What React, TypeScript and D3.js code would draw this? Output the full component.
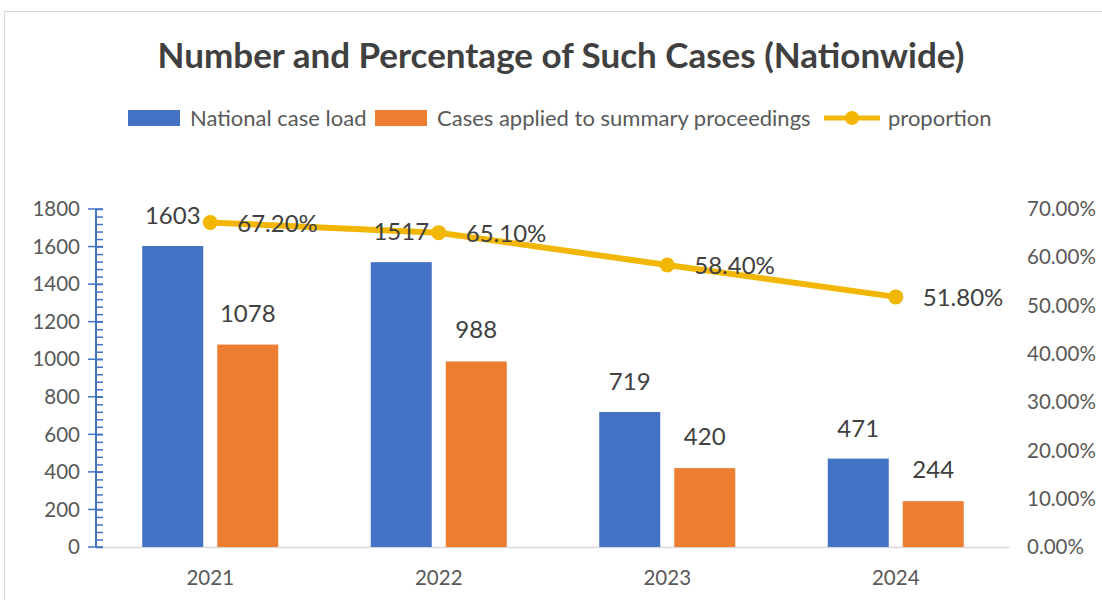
import React, { useEffect, useRef } from 'react';
import * as d3 from 'd3';

const years = ['2021', '2022', '2023', '2024'];
const nationalCases = [1603, 1517, 719, 471];
const summaryCases = [1078, 988, 420, 244];
const proportion = [0.672, 0.651, 0.584, 0.518];
const leftTicks = [0, 200, 400, 600, 800, 1000, 1200, 1400, 1600, 1800];
const rightTicks = [0, 0.1, 0.2, 0.3, 0.4, 0.5, 0.6, 0.7];

const BLUE = '#4472c4';
const ORANGE = '#ed7d31';
const GOLD = '#f2b705';
const FONT = 'Lato, "Open Sans", sans-serif';

const App = () => {
  const svgRef = useRef<SVGSVGElement>(null);

  useEffect(() => {
    const svg = d3.select(svgRef.current);
    svg.selectAll('*').remove();

    const width = 1102;
    const height = 600;
    const left = 96;
    const right = 1010;
    const top = 209;
    const bottom = 547;

    svg.append('rect')
      .attr('x', 4.5).attr('y', 11.5)
      .attr('width', 1200).attr('height', 700)
      .attr('fill', '#fff').attr('stroke', '#d9d9d9');

    svg.append('text')
      .attr('x', 561).attr('y', 68)
      .attr('text-anchor', 'middle')
      .attr('font-family', FONT)
      .attr('font-weight', 'bold')
      .attr('font-size', 35)
      .attr('fill', '#404040')
      .text('Number and Percentage of Such Cases (Nationwide)');

    // legend
    const leg = svg.append('g').attr('font-family', FONT).attr('font-size', 22).attr('fill', '#595959');
    leg.append('rect').attr('x', 128).attr('y', 110).attr('width', 52).attr('height', 16).attr('fill', BLUE);
    leg.append('text').attr('x', 190).attr('y', 126).text('National case load');
    leg.append('rect').attr('x', 375).attr('y', 110).attr('width', 52).attr('height', 16).attr('fill', ORANGE);
    leg.append('text').attr('x', 437).attr('y', 126).text('Cases applied to summary proceedings');
    leg.append('line').attr('x1', 824).attr('x2', 880).attr('y1', 118).attr('y2', 118)
      .attr('stroke', GOLD).attr('stroke-width', 5);
    leg.append('circle').attr('cx', 852).attr('cy', 118).attr('r', 7).attr('fill', GOLD);
    leg.append('text').attr('x', 888).attr('y', 126).text('proportion');

    const x = d3.scaleBand().domain(years).range([left, right]);
    const y = d3.scaleLinear().domain([0, 1800]).range([bottom, top]);
    const y2 = d3.scaleLinear().domain([0, 0.7]).range([bottom, top]);

    // baseline
    svg.append('line').attr('x1', left).attr('x2', right).attr('y1', bottom + 0.5).attr('y2', bottom + 0.5)
      .attr('stroke', '#d9d9d9').attr('stroke-width', 1.5);

    const barW = 61;
    const gap = 14;

    svg.append('g').selectAll('rect').data(years).join('rect')
      .attr('x', (d) => x(d)! + x.bandwidth() / 2 - gap / 2 - barW)
      .attr('y', (d, i) => y(nationalCases[i]))
      .attr('width', barW)
      .attr('height', (d, i) => bottom - y(nationalCases[i]))
      .attr('fill', BLUE);

    svg.append('g').selectAll('rect').data(years).join('rect')
      .attr('x', (d) => x(d)! + x.bandwidth() / 2 + gap / 2)
      .attr('y', (d, i) => y(summaryCases[i]))
      .attr('width', barW)
      .attr('height', (d, i) => bottom - y(summaryCases[i]))
      .attr('fill', ORANGE);

    // left axis
    const ax = svg.append('g').attr('transform', `translate(${left},0)`);
    ax.call(d3.axisLeft(y).tickValues(d3.range(0, 1801, 40)).tickSize(-7).tickFormat(() => ''))
      .call((g) => g.select('.domain').remove());
    ax.selectAll('.tick line').attr('stroke', BLUE).attr('stroke-width', 1.5);
    ax.append('g').selectAll('line').data(leftTicks).join('line')
      .attr('x1', -8).attr('x2', 7)
      .attr('y1', (d) => y(d)).attr('y2', (d) => y(d))
      .attr('stroke', BLUE).attr('stroke-width', 1.5);
    ax.append('line').attr('x1', 0).attr('x2', 0).attr('y1', top).attr('y2', bottom)
      .attr('stroke', BLUE).attr('stroke-width', 2);
    ax.append('g').selectAll('text').data(leftTicks).join('text')
      .attr('x', -16).attr('y', (d) => y(d)).attr('dy', '0.35em')
      .attr('text-anchor', 'end')
      .attr('font-family', FONT).attr('font-size', 20.5).attr('fill', '#595959')
      .text((d) => String(d));

    // right axis labels
    svg.append('g').selectAll('text').data(rightTicks).join('text')
      .attr('x', 1027).attr('y', (d) => y2(d)).attr('dy', '0.35em')
      .attr('font-family', FONT).attr('font-size', 20.5).attr('fill', '#595959')
      .text((d) => d3.format('.2%')(d));

    // x labels
    svg.append('g').selectAll('text').data(years).join('text')
      .attr('x', (d) => x(d)! + x.bandwidth() / 2).attr('y', 585)
      .attr('text-anchor', 'middle')
      .attr('font-family', FONT).attr('font-size', 20.5).attr('fill', '#595959')
      .text((d) => d);

    // proportion line
    const cx = (d: string) => x(d)! + x.bandwidth() / 2;
    const line = d3.line<number>().x((d, i) => cx(years[i])).y((d) => y2(d));
    svg.append('path').datum(proportion).attr('d', line)
      .attr('fill', 'none').attr('stroke', GOLD).attr('stroke-width', 6).attr('stroke-linejoin', 'round');
    svg.append('g').selectAll('circle').data(proportion).join('circle')
      .attr('cx', (d, i) => cx(years[i])).attr('cy', (d) => y2(d)).attr('r', 7.5).attr('fill', GOLD);

    // value labels
    const lab = svg.append('g').attr('font-family', FONT).attr('font-size', 24).attr('fill', '#404040')
      .attr('text-anchor', 'middle');
    lab.selectAll('.n').data(nationalCases).join('text').attr('class', 'n')
      .attr('x', (d, i) => x(years[i])! + x.bandwidth() / 2 - gap / 2 - barW / 2)
      .attr('y', (d) => y(d) - 22)
      .text((d) => String(d));
    lab.selectAll('.s').data(summaryCases).join('text').attr('class', 's')
      .attr('x', (d, i) => x(years[i])! + x.bandwidth() / 2 + gap / 2 + barW / 2)
      .attr('y', (d) => y(d) - 23)
      .text((d) => String(d));
    lab.selectAll('.p').data(proportion).join('text').attr('class', 'p')
      .attr('x', (d, i) => cx(years[i]) + 27)
      .attr('y', (d) => y2(d) + 9)
      .attr('text-anchor', 'start')
      .text((d) => d3.format('.2%')(d));

    svg.attr('width', width).attr('height', height);
  }, []);

  return (
    <svg ref={svgRef} width={1102} height={600}
      style={{ position: 'absolute', left: 0, top: 0, display: 'block' }} />
  );
};

export default App;
